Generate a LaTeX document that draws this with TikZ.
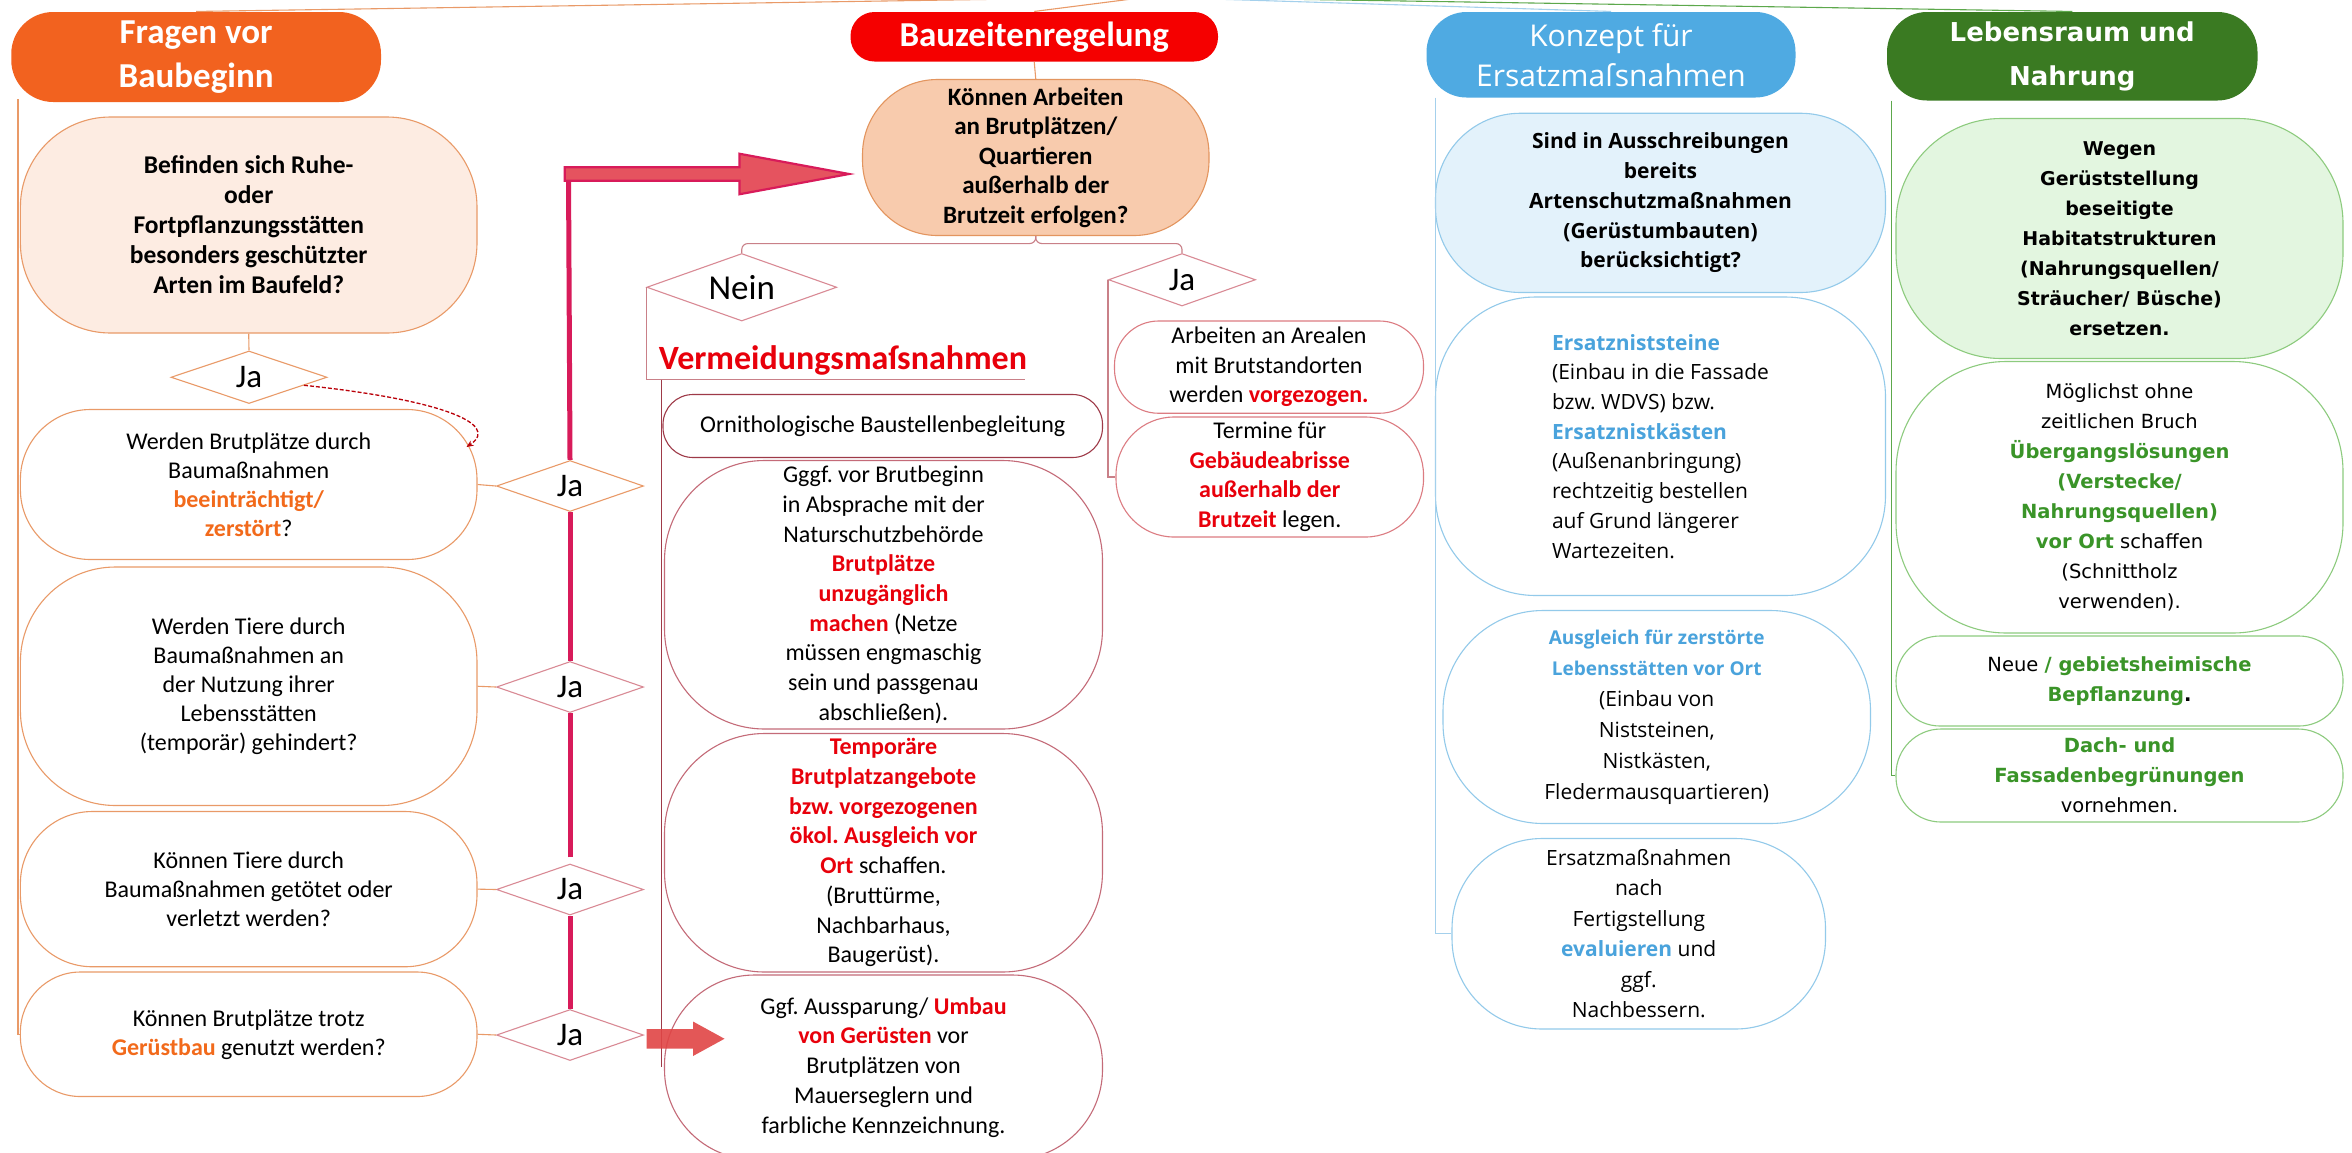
\documentclass[tikz,border=0pt]{standalone}
\usepackage{fontspec}
\setmainfont{Carlito}
\newfontfamily\notosans{Open Sans}
\newfontfamily\dejavu{DejaVu Sans}
\usetikzlibrary{shapes.geometric,arrows.meta,calc}
\frenchspacing
\definecolor{hOrange}{HTML}{F2621F}
\definecolor{hRed}{HTML}{F50000}
\definecolor{hBlue}{HTML}{4FAAE2}
\definecolor{hGreen}{HTML}{3A7A22}
\definecolor{orbd}{HTML}{E99A68}
\definecolor{peach}{HTML}{FDECE2}
\definecolor{bqfill}{HTML}{F8CBAD}
\definecolor{bqbd}{HTML}{E3955F}
\definecolor{mag}{HTML}{D81B5A}
\definecolor{arrfill}{HTML}{E5535F}
\definecolor{smallarr}{HTML}{E04545}
\definecolor{rtext}{HTML}{E8000B}
\definecolor{otext}{HTML}{F26A1B}
\definecolor{darkrose}{HTML}{9E3A48}
\definecolor{rosebd}{HTML}{C46B78}
\definecolor{jabd}{HTML}{DC7C82}
\definecolor{pinkbd}{HTML}{D98A95}
\definecolor{brk}{HTML}{C98088}
\definecolor{blbd}{HTML}{93CAEA}
\definecolor{bltext}{HTML}{4AA3DC}
\definecolor{blfill}{HTML}{E3F2FB}
\definecolor{blline}{HTML}{A4D0EC}
\definecolor{grbd}{HTML}{8DCB7E}
\definecolor{grfill}{HTML}{E3F6E0}
\definecolor{grtext}{HTML}{3A9428}
\definecolor{grline}{HTML}{5DA84C}
\newcommand\fs[2]{\fontsize{#1}{#2}\selectfont}
\newcommand\ob[1]{{\bfseries\color{otext}#1}}
\newcommand\rb[1]{{\bfseries\color{rtext}#1}}
\newcommand\bb[1]{{\bfseries\color{bltext}#1}}
\newcommand\gb[1]{{\bfseries\color{grtext}#1}}
\newcommand\bx[7]{\node[#6, minimum width={(#4-#2)*1.5pt}, minimum height={(#5-#3)*1.5pt}] (#1) at ({(#2+#4)/2},{(#3+#5)/2}) {#7};}
\begin{document}
\begin{tikzpicture}[x=1.5pt,y=-1.5pt,
  base/.style={draw, inner sep=0pt, align=center, line width=1.1pt},
  hdr/.style={base, draw=none, text=white},
  lbox/.style={base, draw=orbd, font=\fs{24}{29}},
  dia/.style={diamond, draw=#1, line width=1.1pt, inner sep=0pt, aspect=2.8, font=\fs{33}{36}},
  rbox/.style={base, draw=rosebd, font=\fs{24}{29.7}},
  jbox/.style={base, draw=jabd, font=\fs{24}{29.5}},
  bbox/.style={base, draw=blbd, font=\notosans\fs{21}{29.7}},
  gbox/.style={base, draw=grbd, font=\dejavu\fs{19.5}{30}},
  oline/.style={draw=orbd, line width=1.1pt},
  magline/.style={draw=mag, line width=5pt},
  brline/.style={draw=brk, line width=1.1pt},
  dkline/.style={draw=darkrose, line width=1.3pt},
  blln/.style={draw=blline, line width=1.1pt},
  grln/.style={draw=grline, line width=1.1pt}
]
\useasboundingbox (0,0) rectangle (1568,768);
\fill[white] (0,0) rectangle (1568,768);

% headers
\bx{h1}{7.5}{8}{254}{68}{hdr, fill=hOrange, rounded corners=42pt, font=\bfseries\fs{35}{44}}{Fragen vor\\Baubeginn}
\bx{h2}{567}{8}{812}{41}{hdr, fill=hRed, rounded corners=24pt, font=\bfseries\fs{35}{44}}{Bauzeitenregelung}
\bx{h3}{951}{8}{1197}{65}{hdr, fill=hBlue, rounded corners=40pt, font=\notosans\fs{30}{40}}{Konzept für\\Ersatzmaſsnahmen}
\bx{h4}{1258}{8}{1505}{67}{hdr, fill=hGreen, rounded corners=40pt, font=\dejavu\bfseries\fs{26}{44}}{Lebensraum und\\Nahrung}

% top connectors
\coordinate (root) at (765,-2);
\draw[oline] (root) -- (h1.north);
\draw[oline] (root) -- (h2.north);
\draw[blln] (root) -- (h3.north);
\draw[grln] (root) -- (h4.north);

% left column
\bx{q1}{13.6}{78}{318}{222}{lbox, fill=peach, rounded corners=90pt, font=\bfseries\fs{25.5}{30}}{Befinden sich Ruhe-\\oder\\Fortpflanzungsstätten\\besonders geschützter\\Arten im Baufeld?}
\node[dia=orbd, minimum width=156pt, minimum height=52.5pt] (ja1) at (166,251.5) {Ja};
\bx{q2}{13.6}{273}{318}{373}{lbox, rounded corners=70pt}{Werden Brutplätze durch\\Baumaßnahmen\\\ob{beeinträchtigt/}\\\ob{zerstört}?}
\bx{q3}{13.6}{378}{318}{537}{lbox, rounded corners=95pt}{Werden Tiere durch\\Baumaßnahmen an\\der Nutzung ihrer\\Lebensstätten\\(temporär) gehindert?}
\bx{q4}{13.6}{541}{318}{644.5}{lbox, rounded corners=72pt}{Können Tiere durch\\Baumaßnahmen getötet oder\\verletzt werden?}
\bx{q5}{13.6}{648}{318}{731}{lbox, rounded corners=60pt}{Können Brutplätze trotz\\\ob{Gerüstbau} genutzt werden?}
\node[dia=orbd, minimum width=147pt, minimum height=51pt] (ja2) at (380,324) {Ja};
\node[dia=pinkbd, minimum width=147pt, minimum height=51pt] (ja3) at (380,458) {Ja};
\node[dia=pinkbd, minimum width=147pt, minimum height=51pt] (ja4) at (380,593) {Ja};
\node[dia=pinkbd, minimum width=147pt, minimum height=51pt] (ja5) at (380,690) {Ja};

\coordinate (lstart) at (12,66);
\draw[oline] (lstart) |- (q5.west);
\draw[oline] (q1.south) -- (ja1.north);
\draw[oline] (q2.east) -- (ja2.west);
\draw[oline] (q3.east) -- (ja3.west);
\draw[oline] (q4.east) -- (ja4.west);
\draw[oline] (q5.east) -- (ja5.west);
\draw[draw=rtext!80!black, line width=1.3pt, dash pattern=on 4pt off 2pt, -{Stealth[length=7pt,width=6pt]}]
  ($(ja1.east)!0.3!(ja1.south)$) .. controls (290,266) and (335,282) .. (311,298);

% magenta path
\coordinate (corner) at (379,116);
\draw[magline] (ja5.north) -- (ja4.south);
\draw[magline, shorten <=6pt] (ja4.north) -- (ja3.south);
\draw[magline] (ja3.north) -- (ja2.south);
\draw[magline] (ja2.north) -- (corner);
\coordinate (atip) at (566,116);
\filldraw[draw=mag, fill=arrfill, line width=2.2pt, line join=miter]
  (376.5,111.5) -- (493,111.5) -- (493,102.5) -- (atip) -- (493,129.5) -- (493,120.5) -- (376.5,120.5) -- cycle;

% middle column
\bx{bq}{575}{53}{806}{157}{base, draw=bqbd, fill=bqfill, rounded corners=75pt, font=\bfseries\fs{25}{29.5}}{Können Arbeiten\\an Brutplätzen/\\Quartieren\\außerhalb der\\Brutzeit erfolgen?}
\draw[oline] (h2.south) -- (bq.north);
\node[dia=pinkbd, minimum width=190pt, minimum height=67.5pt, font=\fs{35}{38}] (nein) at (494.5,191.5) {Nein};
\node[dia=pinkbd, minimum width=147pt, minimum height=52.5pt] (mja) at (788,186.5) {Ja};
\draw[brline, rounded corners=6pt] (bq.south) -- ++(0,5) -| (nein.north);
\draw[brline, rounded corners=6pt] (bq.south) -- ++(0,5) -| (mja.north);
\coordinate (ulend) at (683,253);
\draw[brline] (nein.west) |- (ulend);
\node[font=\bfseries\fs{34}{38}, text=rtext, inner sep=0pt] (vm) at (562,240) {Vermeidungsmaſsnahmen};

\bx{orn}{442}{263}{735}{305}{rbox, draw=darkrose, rounded corners=30pt}{Ornithologische Baustellenbegleitung}
\bx{ggf1}{443}{307}{735}{486}{rbox, rounded corners=100pt}{Gggf. vor Brutbeginn\\in Absprache mit der\\Naturschutzbehörde\\\rb{Brutplätze}\\\rb{unzugänglich}\\\rb{machen} (Netze\\müssen engmaschig\\sein und passgenau\\abschließen).}
\bx{temp}{443}{489}{735}{648}{rbox, rounded corners=100pt}{\rb{Temporäre}\\\rb{Brutplatzangebote}\\\rb{bzw. vorgezogenen}\\\rb{ökol. Ausgleich vor}\\\rb{Ort} schaffen.\\(Bruttürme,\\Nachbarhaus,\\Baugerüst).}
\bx{ggf2}{443}{650}{735}{773}{rbox, rounded corners=90pt}{Ggf. Aussparung/ \rb{Umbau}\\\rb{von Gerüsten} vor\\Brutplätzen von\\Mauerseglern und\\farbliche Kennzeichnung.}
\coordinate (vtop) at (441,253);
\draw[dkline] (vtop) -- (vtop |- ggf2.west);

\fill[smallarr, opacity=0.9] (431,686) -- (462,686) -- (462,681) -- (483,692.5) -- (462,704) -- (462,699) -- (431,699) -- cycle;

\bx{are}{743}{214}{949}{275.5}{jbox, rounded corners=44pt}{Arbeiten an Arealen\\mit Brutstandorten\\werden \rb{vorgezogen.}}
\bx{ter}{744}{278}{949}{358}{jbox, rounded corners=58pt}{Termine für\\\rb{Gebäudeabrisse}\\\rb{außerhalb der}\\\rb{Brutzeit} legen.}
\draw[brline] (mja.west) |- (ter.west);

% blue column
\bx{b1}{957}{75.5}{1257}{195}{bbox, fill=blfill, rounded corners=85pt, font=\notosans\bfseries\fs{21}{29.7}}{Sind in Ausschreibungen\\bereits\\Artenschutzmaßnahmen\\(Gerüstumbauten)\\berücksichtigt?}
\bx{b2}{957}{198}{1257}{397}{bbox, align=left, rounded corners=100pt}{\bb{Ersatzniststeine}\\(Einbau in die Fassade\\bzw. WDVS) bzw.\\\bb{Ersatznistkästen}\\(Außenanbringung)\\rechtzeitig bestellen\\auf Grund längerer\\Wartezeiten.}
\bx{b3}{962}{407}{1247}{549}{bbox, rounded corners=100pt, font=\notosans\fs{21}{31}}{\bb{\fs{19}{31}Ausgleich für zerstörte}\\\bb{\fs{19}{31}Lebensstätten vor Ort}\\(Einbau von\\Niststeinen,\\Nistkästen,\\Fledermausquartieren)}
\bx{b4}{968}{559}{1217}{686}{bbox, rounded corners=90pt, font=\notosans\fs{21}{30.5}}{Ersatzmaßnahmen\\nach\\Fertigstellung\\\bb{evaluieren} und\\ggf.\\Nachbessern.}
\coordinate (bl) at (957,65);
\draw[blln] (bl) |- (b4.west);

% green column
\bx{g1}{1264}{79}{1562}{239}{gbox, fill=grfill, rounded corners=105pt, font=\dejavu\bfseries\fs{19}{30}}{Wegen\\Gerüststellung\\beseitigte\\Habitatstrukturen\\(Nahrungsquellen/\\Sträucher/ Büsche)\\ersetzen.}
\bx{g2}{1264}{241}{1562}{422}{gbox, rounded corners=110pt}{Möglichst ohne\\zeitlichen Bruch\\\gb{Übergangslösungen}\\\gb{(Verstecke/}\\\gb{Nahrungsquellen)}\\\gb{vor Ort} schaffen\\(Schnittholz\\verwenden).}
\bx{g3}{1264}{424}{1562}{484}{gbox, rounded corners=44pt}{Neue \gb{/ gebietsheimische}\\\gb{Bepflanzung}\textbf{.}}
\bx{g4}{1264}{486}{1562}{548}{gbox, rounded corners=45pt}{\gb{Dach- und}\\\gb{Fassadenbegrünungen}\\vornehmen.}
\coordinate (gl) at (1261,67);
\draw[grln] (gl) |- (g4.west);
\end{tikzpicture}
\end{document}
